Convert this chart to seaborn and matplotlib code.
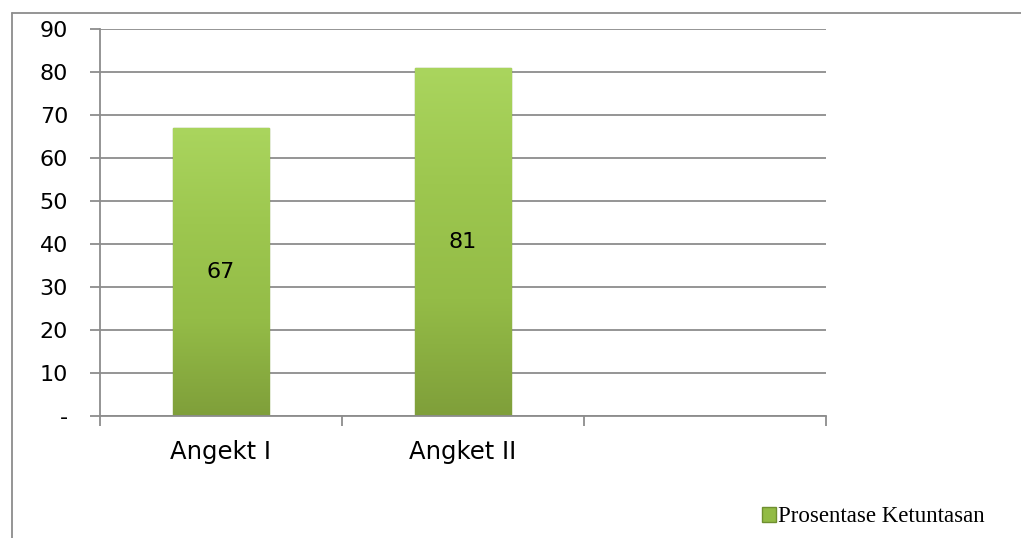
import numpy as np
import pandas as pd
import matplotlib
matplotlib.use("Agg")
import matplotlib.pyplot as plt
import seaborn as sns
from matplotlib.lines import Line2D
from matplotlib.patches import Patch
from matplotlib.colors import LinearSegmentedColormap

categories = ["Angekt I", "Angket II"]
values = [67, 81]
series_name = "Prosentase Ketuntasan"
ytick_values = [0, 10, 20, 30, 40, 50, 60, 70, 80, 90]
ytick_labels = ["-", "10", "20", "30", "40", "50", "60", "70", "80", "90"]
n_slots = 3

sns.set_theme(style="white")
plt.rcParams['font.family'] = ['DejaVu Sans']
plt.rcParams['text.color'] = 'black'
plt.rcParams['xtick.color'] = 'black'
plt.rcParams['ytick.color'] = 'black'

fig = plt.figure(figsize=(10.21, 5.38), dpi=100)
ax = fig.add_axes([100/1021, 1-416/538, 726/1021, 387/538])

df = pd.DataFrame({"cat": categories, "val": values})
sns.barplot(data=df, x="cat", y="val", ax=ax, color="#92bb45", width=0.4,
            saturation=1, zorder=3)

grid_c = "#8c8c8c"
ax.set_xlim(-0.5, n_slots - 0.5)
ax.set_ylim(0, 90)
ax.set_yticks(ytick_values)
ax.set_yticklabels(ytick_labels, fontsize=16, color="black")
ax.yaxis.grid(True, color=grid_c, linewidth=1.3, zorder=0)
ax.set_axisbelow(True)
ax.tick_params(axis="y", length=7, width=1.3, color=grid_c, pad=16, left=True,
               labelcolor="black")

ax.set_xticks([i - 0.5 for i in range(n_slots + 1)])
ax.set_xticklabels([])
ax.set_xticks(list(range(len(categories))), minor=True)
ax.set_xticklabels(categories, minor=True, fontsize=17.5, color="black")
ax.tick_params(axis="x", which="major", length=7, width=1.3, color=grid_c, bottom=True, direction="out")
ax.tick_params(axis="x", which="minor", length=0, pad=17, labelcolor="black")
ax.set_xlabel("")
ax.set_ylabel("")

for s in ["top", "right"]:
    ax.spines[s].set_visible(False)
for s in ["left", "bottom"]:
    ax.spines[s].set_color(grid_c)
    ax.spines[s].set_linewidth(1.3)
    ax.spines[s].set_zorder(4)

# gradient fill on bars
cmap = LinearSegmentedColormap.from_list("g", ["#aad55e", "#9dc74f", "#94bc47", "#7f9f3a"])
grad = np.linspace(0, 1, 256).reshape(-1, 1)
for p, v in zip(ax.patches, values):
    x0, w = p.get_x(), p.get_width()
    p.set_facecolor("none")
    p.set_edgecolor("#7a9a37")
    p.set_linewidth(1.0)
    im = ax.imshow(grad, extent=[x0, x0 + w, 0, v], aspect="auto", cmap=cmap,
                   origin="upper", zorder=3)
    im.set_clip_path(p)
    ax.text(x0 + w / 2, v / 2, str(v), ha="center", va="center", fontsize=16,
            color="black", zorder=5)

ax.set_xlim(-0.5, n_slots - 0.5)
ax.set_ylim(0, 90)

# outer frame (left and top)
fig.add_artist(Line2D([12/1021, 12/1021], [0, 1-13/538], transform=fig.transFigure,
                      color="#8c8c8c", linewidth=1.3))
fig.add_artist(Line2D([12/1021, 1], [1-13/538, 1-13/538], transform=fig.transFigure,
                      color="#8c8c8c", linewidth=1.3))

leg = fig.legend(handles=[Patch(facecolor="#92bb45", edgecolor="#6f8f30", label=series_name)],
                 loc="center right", bbox_to_anchor=(985/1021, 1-517/538), frameon=False,
                 prop={"family": "Liberation Serif", "size": 16.5},
                 handlelength=0.6, handleheight=0.6, handletextpad=0.1,
                 borderpad=0, borderaxespad=0)
for t in leg.get_texts():
    t.set_color("black")

fig.savefig("out.png", dpi=100)
